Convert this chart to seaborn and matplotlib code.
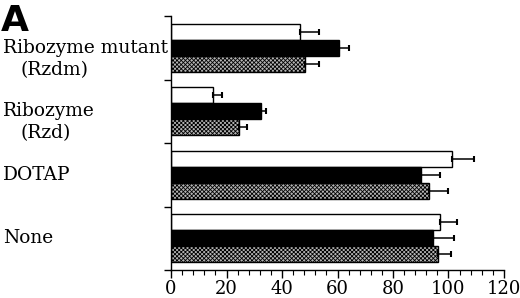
import numpy as np
import pandas as pd
import seaborn as sns
import matplotlib
matplotlib.use("Agg")
import matplotlib.pyplot as plt
from matplotlib.ticker import MultipleLocator
import matplotlib.transforms as mtransforms

# ---- data ----
categories = ["Ribozyme mutant (Rzdm)", "Ribozyme (Rzd)", "DOTAP", "None"]
label_line1 = ["Ribozyme mutant", "Ribozyme", "DOTAP", "None"]
label_line2 = ["(Rzdm)", "(Rzd)", "", ""]
series = ["open", "solid", "stippled"]
open_vals = [46.4, 15.3, 101.1, 96.9]
open_err = [6.8, 3.0, 8.0, 6.0]
solid_vals = [60.4, 32.3, 90.1, 94.3]
solid_err = [3.9, 1.9, 6.9, 7.7]
stippled_vals = [48.4, 24.4, 93.1, 96.1]
stippled_err = [4.8, 3.1, 6.9, 4.8]
xticks = [0, 20, 40, 60, 80, 100, 120]

sns.set_style("ticks")
plt.rcParams["font.family"] = ["DejaVu Serif"]
plt.rcParams["hatch.linewidth"] = 0.6
plt.rcParams["text.color"] = "black"
plt.rcParams["xtick.color"] = "black"
plt.rcParams["ytick.color"] = "black"
plt.rcParams["axes.edgecolor"] = "black"

df = pd.DataFrame({
    "category": categories * 3,
    "series": [s for s in series for _ in categories],
    "value": open_vals + solid_vals + stippled_vals,
})
errs = {"open": open_err, "solid": solid_err, "stippled": stippled_err}

fig = plt.figure(figsize=(5.2, 2.98), dpi=100)
ax = fig.add_axes([171 / 520, 1 - 270 / 298, (504 - 171) / 520, (270 - 16) / 298])

palette = {"open": "white", "solid": "black", "stippled": "#b5b5b5"}
sns.barplot(data=df, y="category", x="value", hue="series", order=categories,
            hue_order=series, palette=palette, orient="h", width=0.75,
            errorbar=None, edgecolor="black", linewidth=1.0, legend=False, ax=ax)

# hatch the stippled series and add one-sided error bars
for s, cont in zip(series, ax.containers):
    for i, bar in enumerate(cont):
        if s == "stippled":
            bar.set_hatch("xxxxxxxx")
        y = bar.get_y() + bar.get_height() / 2
        x = bar.get_width()
        ax.errorbar(x, y, xerr=[[0], [errs[s][i]]], fmt="none", ecolor="black",
                    elinewidth=1.1, capsize=2.5, capthick=1.5, zorder=1)

ax.set_xlim(0, 120)
ax.set_ylim(3.5, -0.5)
ax.set_xticks(xticks)
ax.set_xticklabels([str(t) for t in xticks], fontsize=13, color="black")
ax.xaxis.set_minor_locator(MultipleLocator(4))
ax.set_yticks(np.arange(-0.5, 4.0, 1.0))
ax.set_yticklabels([])
ax.tick_params(axis="x", which="major", length=6, width=1.0, pad=1.5)
ax.tick_params(axis="x", which="minor", length=3.5, width=0.8)
ax.tick_params(axis="y", which="major", length=5, width=1.0)
ax.set_xlabel("")
ax.set_ylabel("")
for sp in ["top", "right"]:
    ax.spines[sp].set_visible(False)
for sp in ["left", "bottom"]:
    ax.spines[sp].set_linewidth(1.0)

trans = mtransforms.blended_transform_factory(fig.transFigure, ax.transData)
for i, (l1, l2) in enumerate(zip(label_line1, label_line2)):
    ax.text(3 / 520, i, l1, transform=trans, ha="left", va="center",
            fontsize=13.4, color="black")
    if l2:
        ax.text(20 / 520, i + 0.35, l2, transform=trans, ha="left", va="center",
                fontsize=13.4, color="black")

fig.text(1 / 520, 1 - 31 / 298, "A", ha="left", va="baseline", fontsize=26,
         fontweight="heavy", family="DejaVu Sans", color="black")

fig.savefig("out.png", dpi=100)
